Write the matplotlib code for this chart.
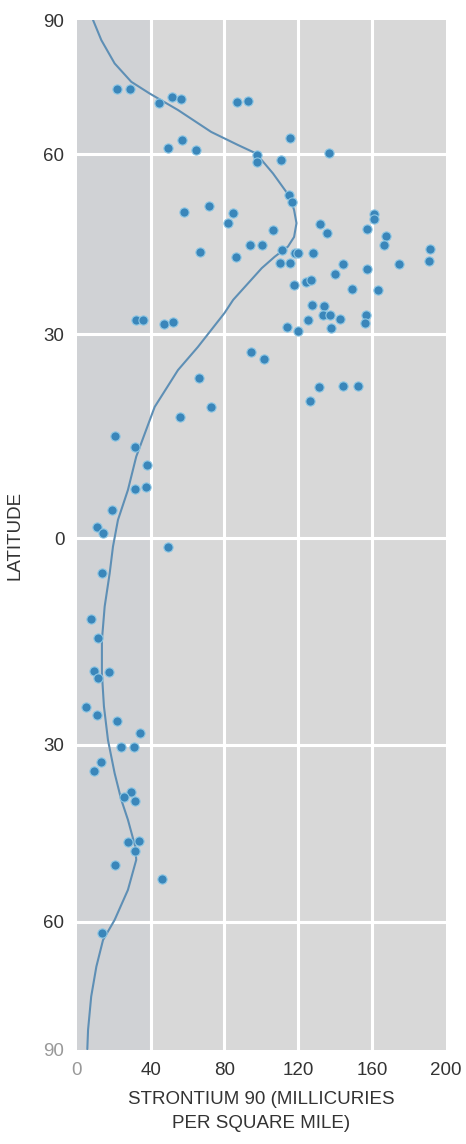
import numpy as np
import matplotlib
matplotlib.use("Agg")
import matplotlib.pyplot as plt

plt.rcParams['font.family'] = ['Liberation Sans', 'DejaVu Sans']

# ---- data ----
sr90 = [21.9, 28.9, 44.3, 51.7, 56.5, 86.8, 92.6, 56.9, 49.3, 64.7,
        97.5, 97.5, 115.4, 110.5, 136.6, 115.0, 116.8, 58.0, 71.5, 84.5,
        81.8, 67.0, 86.3, 93.6, 100.4, 32.2, 35.8, 47.0, 52.1, 94.5,
        101.5, 106.3, 111.2, 110.0, 115.6, 118.1, 119.9, 128.0, 132.0, 135.8,
        144.0, 140.0, 157.3, 160.8, 161.0, 167.7, 166.4, 157.1, 191.1, 190.8,
        174.6, 117.7, 124.0, 127.1, 148.9, 163.1, 127.6, 133.9, 133.2, 137.3,
        142.7, 125.3, 156.6, 156.2, 137.7, 113.6, 119.7, 66.4, 72.9, 55.9,
        131.4, 144.4, 152.2, 126.5, 20.6, 31.6, 38.1, 31.4, 37.7, 19.2,
        10.9, 14.4, 49.5, 13.7, 7.8, 11.3, 9.3, 11.3, 17.2, 5.2,
        10.8, 21.8, 34.1, 24.2, 31.2, 13.2, 9.3, 29.6, 25.5, 31.6,
        27.8, 33.8, 31.6, 20.5, 46.3, 13.6]
latitude = [74.7, 74.7, 71.4, 72.7, 72.4, 71.7, 71.9, 63.3, 61.5, 61.0,
            59.9, 58.7, 63.6, 59.0, 60.2, 53.2, 52.1, 50.4, 51.3, 50.2,
            48.5, 43.7, 42.9, 44.9, 44.9, 32.3, 32.3, 31.7, 32.0, 27.4,
            26.4, 47.4, 44.0, 41.9, 41.9, 43.5, 43.5, 43.5, 48.3, 46.9,
            41.7, 40.1, 47.5, 50.0, 49.2, 46.4, 44.8, 40.9, 44.2, 42.2,
            41.7, 38.2, 38.6, 39.0, 37.5, 37.3, 34.9, 34.7, 33.1, 33.2,
            32.5, 32.3, 33.2, 31.8, 31.0, 31.2, 30.5, 23.5, 19.3, 17.8,
            22.2, 22.3, 22.4, 20.1, 15.0, 13.4, 10.8, 7.3, 7.6, 4.2,
            1.6, 0.8, -1.3, -5.1, -11.7, -14.5, -19.3, -20.3, -19.4, -24.5,
            -25.6, -26.5, -28.2, -30.4, -30.4, -32.9, -34.4, -37.9, -38.9, -39.5,
            -46.5, -46.3, -48.0, -50.4, -52.8, -62.7]

curve_sr90 = [8.8, 13.3, 20.5, 29.5, 39.4, 54.8, 72.8, 87.2, 97.1, 106.3,
              115.4, 117.7, 119.0, 117.7, 114.4, 107.2, 100.2, 84.7, 80.0, 65.6,
              54.8, 42.2, 32.2, 27.7, 22.3, 19.6, 17.8, 15.1, 13.6, 13.6,
              14.7, 16.9, 20.5, 24.1, 27.7, 31.7, 32.2, 27.7, 20.5, 14.2,
              10.6, 7.8, 6.1, 5.7]
curve_lat = [90.0, 85.5, 80.3, 76.2, 73.6, 69.9, 65.0, 62.1, 60.2, 56.8,
             52.9, 50.7, 48.5, 46.2, 44.6, 42.9, 41.0, 35.7, 33.5, 28.1,
             24.7, 19.3, 12.0, 7.1, 2.7, -1.2, -5.1, -9.9, -14.8, -19.6,
             -24.4, -29.3, -34.8, -39.3, -42.7, -47.3, -49.5, -54.6, -59.7, -64.3,
             -70.5, -77.5, -85.3, -89.8]

x_ticks = [0, 40, 80, 120, 160, 200]
lat_ticks = [-90, -60, -30, 0, 30, 60, 90]
lat_tick_labels = ['90', '60', '30', '0', '30', '60', '90']

# latitude axis of the original is not linear: relative heights of the 30-degree bands
band_pos = [0.0, 128.3, 305.0, 511.7, 716.0, 895.7, 1030.0]


def _fwd(v):
    v = np.asarray(v, dtype=float)
    out = np.interp(v, lat_ticks, band_pos)
    s0 = (band_pos[1] - band_pos[0]) / 30.0
    s1 = (band_pos[-1] - band_pos[-2]) / 30.0
    out = np.where(v < lat_ticks[0], band_pos[0] + (v - lat_ticks[0]) * s0, out)
    out = np.where(v > lat_ticks[-1], band_pos[-1] + (v - lat_ticks[-1]) * s1, out)
    return out


def _inv(p):
    p = np.asarray(p, dtype=float)
    out = np.interp(p, band_pos, lat_ticks)
    s0 = 30.0 / (band_pos[1] - band_pos[0])
    s1 = 30.0 / (band_pos[-1] - band_pos[-2])
    out = np.where(p < band_pos[0], lat_ticks[0] + (p - band_pos[0]) * s0, out)
    out = np.where(p > band_pos[-1], lat_ticks[-1] + (p - band_pos[-1]) * s1, out)
    return out


fig = plt.figure(figsize=(4.66, 11.44), dpi=100)
ax = fig.add_axes([0.1648, 0.0822, 0.7923, 0.9003])
ax.set_yscale('function', functions=(_fwd, _inv))
ax.set_xlim(0, 200)
ax.set_ylim(-90, 90)

ax.set_facecolor('#d8d8d8')
ax.axvspan(0, 40, color='#d0d2d5', zorder=0, lw=0)

for xv in x_ticks[1:-1]:
    ax.axvline(xv, color='white', lw=2.2, zorder=1)
for yv in lat_ticks[1:-1]:
    ax.axhline(yv, color='white', lw=2.2, zorder=1)

ax.plot(curve_sr90, curve_lat, color='#5e8fb5', lw=1.5, zorder=2,
        solid_capstyle='round', solid_joinstyle='round')
ax.scatter(sr90, latitude, s=44, color='#3a86ba', edgecolors='#8cc6e4',
           linewidths=0.8, zorder=3)

for s in ax.spines.values():
    s.set_visible(False)

ax.set_xticks(x_ticks)
ax.set_xticklabels([str(v) for v in x_ticks])
ax.set_yticks(lat_ticks)
ax.set_yticklabels(lat_tick_labels)
ax.tick_params(length=0, labelsize=13.5, colors='#333333', pad=9)
ax.get_xticklabels()[0].set_color('#999999')
ax.get_yticklabels()[0].set_color('#999999')

ax.set_xlabel('STRONTIUM 90 (MILLICURIES\nPER SQUARE MILE)', fontsize=13.5,
              color='#333333', linespacing=1.55, labelpad=8)
ax.set_ylabel('LATITUDE', fontsize=13.5, color='#333333', labelpad=14)

fig.savefig('out.png', dpi=100, facecolor='white')
